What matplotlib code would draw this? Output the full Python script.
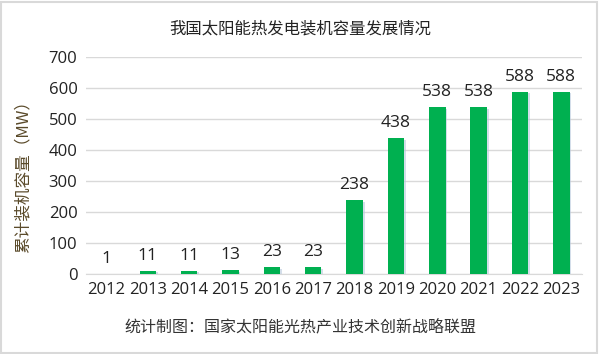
import matplotlib
matplotlib.use("Agg")
import matplotlib.pyplot as plt
import matplotlib.patheffects as pe
from matplotlib.patches import Rectangle

plt.rcParams['font.family'] = ['Open Sans', 'Noto Sans CJK SC', 'DejaVu Sans']

years = ['2012', '2013', '2014', '2015', '2016', '2017', '2018', '2019', '2020', '2021', '2022', '2023']
capacity = [1, 11, 11, 13, 23, 23, 238, 438, 538, 538, 588, 588]
yticks = [0, 100, 200, 300, 400, 500, 600, 700]

title = '我国太阳能热发电装机容量发展情况'
ylabel = '累计装机容量（MW）'
source = '统计制图：国家太阳能光热产业技术创新战略联盟'

fig = plt.figure(figsize=(6, 3.54), dpi=100)
ax = fig.add_axes([0.143, 0.226, 0.827, 0.613])

x = list(range(len(years)))
bars = ax.bar(x, capacity, width=0.4, color='#00b050', zorder=3)
for b in bars:
    b.set_path_effects([pe.SimplePatchShadow(offset=(1.2, -1.2), shadow_rgbFace='#b8c8dc', alpha=0.6), pe.Normal()])

for xi, v in zip(x, capacity):
    ax.text(xi, v + 22, str(v), ha='center', va='bottom', fontsize=12.5, color='#222222',
            family=['Open Sans', 'DejaVu Sans'])

ax.set_xlim(-0.5, len(years) - 0.5)
ax.set_ylim(0, 700)
ax.set_yticks(yticks)
ax.set_yticklabels([str(t) for t in yticks], fontsize=12, color='#222222')
ax.set_xticks(x)
ax.set_xticklabels(years, fontsize=12, color='#222222')
ax.tick_params(axis='both', length=0, pad=6)
ax.yaxis.grid(True, color='#d9d9d9', linewidth=1, zorder=0)
for s in ['top', 'right', 'left']:
    ax.spines[s].set_visible(False)
ax.spines['bottom'].set_color('#d9d9d9')

ax.set_ylabel(ylabel, fontsize=12, color='#5a4a2a', family=['Noto Sans CJK SC', 'DejaVu Sans'])
ax.yaxis.set_label_coords(-0.11, 0.47)

fig.text(0.5, 0.918, title, ha='center', va='center', fontsize=11.8, color='#222222',
         family=['Noto Sans CJK SC', 'DejaVu Sans'])
fig.text(0.5, 0.076, source, ha='center', va='center', fontsize=11.5, color='#333333',
         family=['Noto Sans CJK SC', 'DejaVu Sans'])

fig.patches.append(Rectangle((0.002, 0.003), 0.993, 0.992, transform=fig.transFigure,
                             fill=False, edgecolor='#d9d9d9', linewidth=1.5))

fig.savefig('out.png', dpi=100)
